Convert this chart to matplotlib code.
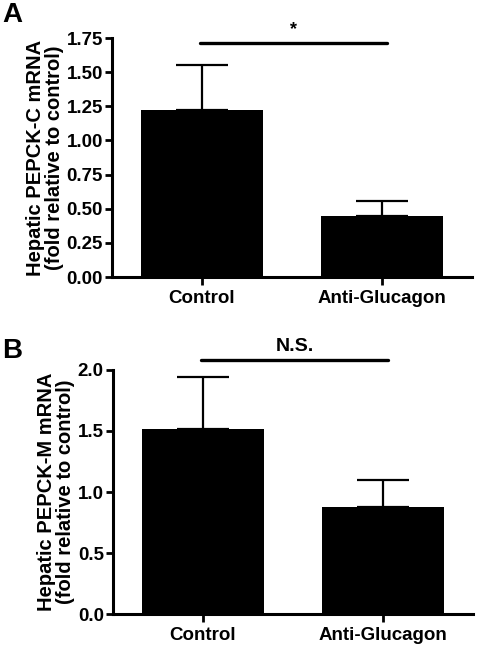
import matplotlib
matplotlib.use("Agg")
import matplotlib.pyplot as plt

categories = ["Control", "Anti-Glucagon"]
pepck_c = [1.225, 0.45]
pepck_c_err = [0.325, 0.105]
pepck_m = [1.52, 0.88]
pepck_m_err = [0.42, 0.22]
yticks_a = [0.00, 0.25, 0.50, 0.75, 1.00, 1.25, 1.50, 1.75]
yticks_b = [0.0, 0.5, 1.0, 1.5, 2.0]

plt.rcParams['font.family'] = ['Liberation Sans', 'DejaVu Sans']
plt.rcParams['font.weight'] = 'bold'

fig = plt.figure(figsize=(4.8, 6.45), dpi=100)

def panel(rect, vals, errs, ymax, yticks, fmt, ylabel, sig, letter, letter_y):
    ax = fig.add_axes(rect)
    x = list(range(len(categories)))
    ax.bar(x, vals, width=0.68, color='black', zorder=2)
    ax.errorbar(x, vals, yerr=[[0]*len(errs), errs], fmt='none', ecolor='black',
                elinewidth=1.6, capsize=18.5, capthick=1.6, zorder=1)
    ax.set_xlim(-0.5, 1.5)
    ax.set_ylim(0, ymax)
    ax.set_yticks(yticks)
    ax.set_yticklabels([fmt.format(v) for v in yticks], fontsize=13.5, fontweight='bold')
    ax.set_xticks(x)
    ax.set_xticklabels(categories, fontsize=13.5, fontweight='bold')
    for s in ['top', 'right']:
        ax.spines[s].set_visible(False)
    for s in ['left', 'bottom']:
        ax.spines[s].set_linewidth(2.2)
    ax.tick_params(axis='y', length=5, width=2.0, pad=1.5)
    ax.tick_params(axis='x', length=6, width=2.0, pad=3)
    ax.set_ylabel(ylabel, fontsize=14.5, fontweight='bold', labelpad=2, linespacing=1.0)
    ax.spines['left'].set_bounds(0, ymax)
    ybar = ymax * sig[1]
    ax.plot([-0.01, 1.03], [ybar, ybar], color='black', lw=2.4,
            clip_on=False, solid_capstyle='round')
    ax.text(0.51, ybar + ymax * 0.02, sig[0], ha='center', va='bottom',
            fontsize=sig[2], fontweight='bold')
    fig.text(0.004, letter_y, letter, fontsize=20, fontweight='bold', ha='left', va='baseline')
    return ax

panel([0.233, 0.5705, 0.75, 0.3705], pepck_c, pepck_c_err, 1.75, yticks_a, "{:.2f}",
      "Hepatic PEPCK-C mRNA\n(fold relative to control)", ("*", 0.98, 13), "A", 0.966)
panel([0.235, 0.048, 0.75, 0.3784], pepck_m, pepck_m_err, 2.0, yticks_b, "{:.1f}",
      "Hepatic PEPCK-M mRNA\n(fold relative to control)", ("N.S.", 1.04, 14), "B", 0.445)

fig.savefig("out.png", dpi=100)
